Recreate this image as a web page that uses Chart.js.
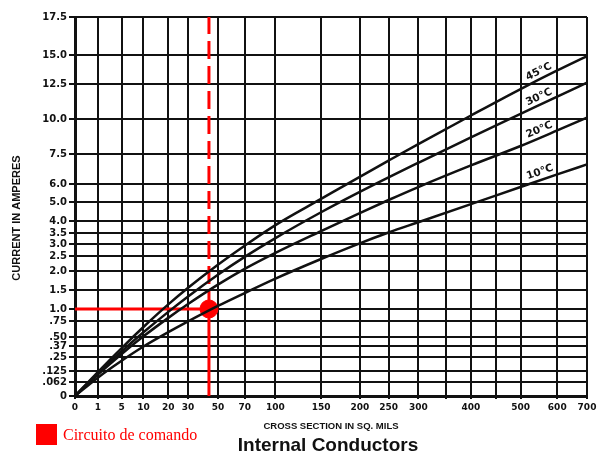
<!DOCTYPE html>
<html>
<head>
<meta charset="utf-8">
<script src="https://cdn.jsdelivr.net/npm/chart.js@4.4.1/dist/chart.umd.min.js"></script>
<style>
  html, body { margin: 0; padding: 0; background: #fff; }
  #wrap { width: 597px; height: 457px; }
</style>
</head>
<body>
<div id="wrap"><canvas id="chart" width="597" height="457"></canvas></div>
<script>
// cross section in sq. mils, and current in amperes read for each curve
const crossSection = [0, 1, 5, 10, 20, 30, 50, 70, 100, 150, 200, 250, 300, 400, 500, 600, 700];
const rise45 = [0, 0.119, 0.348, 0.656, 1.12, 1.56, 2.21, 2.93, 3.83, 5.17, 6.36, 7.17, 8.21, 10.25, 12.14, 13.67, 14.91];
const rise30 = [0, 0.111, 0.311, 0.573, 0.94, 1.33, 1.9, 2.47, 3.27, 4.46, 5.56, 6.33, 7.06, 8.69, 10.36, 11.6, 12.61];
const rise20 = [0, 0.104, 0.283, 0.51, 0.815, 1.13, 1.64, 2.07, 2.63, 3.58, 4.42, 5.11, 5.83, 6.93, 8.07, 9.18, 10.1];
const rise10 = [0, 0.087, 0.216, 0.364, 0.575, 0.744, 1.08, 1.42, 1.8, 2.4, 3.03, 3.52, 3.95, 4.89, 5.83, 6.48, 6.98];
const curveNames = ["45°C", "30°C", "20°C", "10°C"];

// the marked operating point
const markerArea = [44];
const markerCurrent = [1.0];
const legendText = "Circuito de comando";

// axis stops (the paper grid is not linear)
const xStops = [0, 1, 5, 10, 20, 30, 50, 70, 100, 150, 200, 250, 300, 350, 400, 450, 500, 600, 700];
const xStopLabels = ["0", "1", "5", "10", "20", "30", "50", "70", "100", "150", "200", "250", "300", "", "400", "", "500", "600", "700"];
const xStopPos = [0, .0446, .0911, .1337, .1822, .2209, .2791, .3314, .3915, .4806, .5562, .6124, .6705, .7248, .7733, .8217, .8702, .9419, 1];

const yStops = [0, 0.062, 0.125, 0.25, 0.37, 0.5, 0.75, 1, 1.5, 2, 2.5, 3, 3.5, 4, 5, 6, 7.5, 10, 12.5, 15, 17.5];
const yStopLabels = ["0", ".062", ".125", ".25", ".37", ".50", ".75", "1.0", "1.5", "2.0", "2.5", "3.0", "3.5", "4.0", "5.0", "6.0", "7.5", "10.0", "12.5", "15.0", "17.5"];
const yStopPos = [0, .0369, .066, .1029, .1319, .1557, .1979, .2296, .2797, .3298, .3694, .4011, .4301, .4617, .5119, .5594, .6385, .7309, .8232, .8997, 1];

// scale that maps values piecewise between stops
class StopScale extends Chart.Scale {
    determineDataLimits() {
        const s = this.options.stops;
        this.min = s[0];
        this.max = s[s.length - 1];
    }
    buildTicks() {
        return this.options.stops.map(v => ({ value: v }));
    }
    getLabelForValue(v) { return String(v); }
    getDecimalForValue(v) {
        const s = this.options.stops, p = this.options.stopPos;
        if (v <= s[0]) return p[0];
        for (let i = 1; i < s.length; i++) {
            if (v <= s[i]) {
                return p[i - 1] + (v - s[i - 1]) / (s[i] - s[i - 1]) * (p[i] - p[i - 1]);
            }
        }
        return p[p.length - 1];
    }
    getPixelForValue(v) {
        return this.getPixelForDecimal(this.getDecimalForValue(v));
    }
    getPixelForTick(i) {
        return this.getPixelForValue(this.ticks[i].value);
    }
    getValueForPixel(px) {
        const d = this.getDecimalForPixel(px);
        const s = this.options.stops, p = this.options.stopPos;
        for (let i = 1; i < p.length; i++) {
            if (d <= p[i]) return s[i - 1] + (d - p[i - 1]) / (p[i] - p[i - 1]) * (s[i] - s[i - 1]);
        }
        return s[s.length - 1];
    }
}
StopScale.id = "stops";
StopScale.defaults = {};
Chart.register(StopScale);

function pts(ys) {
    return crossSection.map((x, i) => ({ x: x, y: ys[i] }));
}

const curve = (data) => ({
    data: pts(data),
    borderColor: "#111",
    borderWidth: 2.5,
    pointRadius: 0,
    cubicInterpolationMode: "monotone",
    fill: false
});

const red = "#ff0000";

const overlay = {
    id: "overlay",
    afterDatasetsDraw(chart) {
        const ctx = chart.ctx;
        const i5 = crossSection.indexOf(500), i6 = crossSection.indexOf(600);
        curveNames.forEach((name, i) => {
            const d = chart.getDatasetMeta(i).data;
            const a = d[i5], b = d[i6];
            const ang = Math.atan2(b.y - a.y, b.x - a.x);
            const mx = (a.x + b.x) / 2 + 4, my = (a.y + b.y) / 2;
            ctx.save();
            ctx.translate(mx + Math.sin(ang) * 9, my - Math.cos(ang) * 9);
            ctx.rotate(ang);
            ctx.font = "bold 10.5px 'DejaVu Sans'";
            ctx.textAlign = "center";
            ctx.textBaseline = "middle";
            ctx.fillStyle = "#111";
            ctx.fillText(name, 0, 0);
            ctx.restore();
        });
    },
    afterDraw(chart) {
        const ctx = chart.ctx;
        ctx.save();
        // y axis title
        ctx.save();
        ctx.translate(17, 218);
        ctx.rotate(-Math.PI / 2);
        ctx.fillStyle = "#111";
        ctx.font = "bold 11px 'Liberation Sans'";
        ctx.textAlign = "center";
        ctx.textBaseline = "middle";
        ctx.fillText("CURRENT IN AMPERES", 0, 0);
        ctx.restore();
        // legend
        ctx.fillStyle = red;
        ctx.fillRect(36, 424, 21, 21);
        ctx.font = "16px 'Liberation Serif'";
        ctx.textBaseline = "middle";
        ctx.textAlign = "left";
        ctx.fillText(legendText, 63, 436);
        // title
        ctx.fillStyle = "#111";
        ctx.font = "bold 19px 'Liberation Sans'";
        ctx.textAlign = "center";
        ctx.fillText("Internal Conductors", 328, 446);
        ctx.restore();
    }
};

new Chart(document.getElementById("chart"), {
    type: "line",
    data: {
        datasets: [
            curve(rise45),
            curve(rise30),
            curve(rise20),
            curve(rise10),
            {
                data: [{ x: 0, y: markerCurrent[0] }, { x: markerArea[0], y: markerCurrent[0] }],
                borderColor: red, borderWidth: 3, pointRadius: 0
            },
            {
                data: [{ x: markerArea[0], y: 0 }, { x: markerArea[0], y: markerCurrent[0] }],
                borderColor: red, borderWidth: 3, pointRadius: 0
            },
            {
                data: [{ x: markerArea[0], y: markerCurrent[0] }, { x: markerArea[0], y: 17.5 }],
                borderColor: red, borderWidth: 3, pointRadius: 0, borderDash: [18, 7]
            },
            {
                data: [{ x: markerArea[0], y: markerCurrent[0] }],
                borderColor: red, backgroundColor: red, pointRadius: 9, showLine: false
            }
        ]
    },
    options: {
        responsive: false,
        animation: false,
        events: [],
        layout: { padding: { top: 17, right: 6, left: 0, bottom: 25 } },
        plugins: { legend: { display: false }, tooltip: { enabled: false } },
        scales: {
            x: {
                type: "stops",
                position: "bottom",
                stops: xStops,
                stopPos: xStopPos,
                grid: { color: "#111", lineWidth: 2, tickLength: 3 },
                border: { color: "#111", width: 3 },
                ticks: {
                    autoSkip: false, maxRotation: 0, minRotation: 0, padding: 3,
                    color: "#111", font: { family: "DejaVu Sans", weight: "bold", size: 9 },
                    callback: (v, i) => xStopLabels[i]
                },
                title: {
                    display: true, text: "CROSS SECTION IN SQ. MILS", color: "#111",
                    font: { family: "Liberation Sans", weight: "bold", size: 9.5 },
                    padding: { top: 5, bottom: 0 }
                },
                afterFit(s) { s.height = 36; s.paddingLeft = 0; s.paddingRight = 0; }
            },
            y: {
                type: "stops",
                position: "left",
                stops: yStops,
                stopPos: yStopPos,
                grid: { color: "#111", lineWidth: 2, tickLength: 6 },
                border: { color: "#111", width: 3 },
                ticks: {
                    autoSkip: false, padding: 2,
                    color: "#111", font: { family: "DejaVu Sans", weight: "bold", size: 10 },
                    callback: (v, i) => yStopLabels[i]
                },
                afterFit(s) { s.width = 75; s.paddingTop = 0; s.paddingBottom = 0; }
            }
        }
    },
    plugins: [overlay]
});
</script>
</body>
</html>
